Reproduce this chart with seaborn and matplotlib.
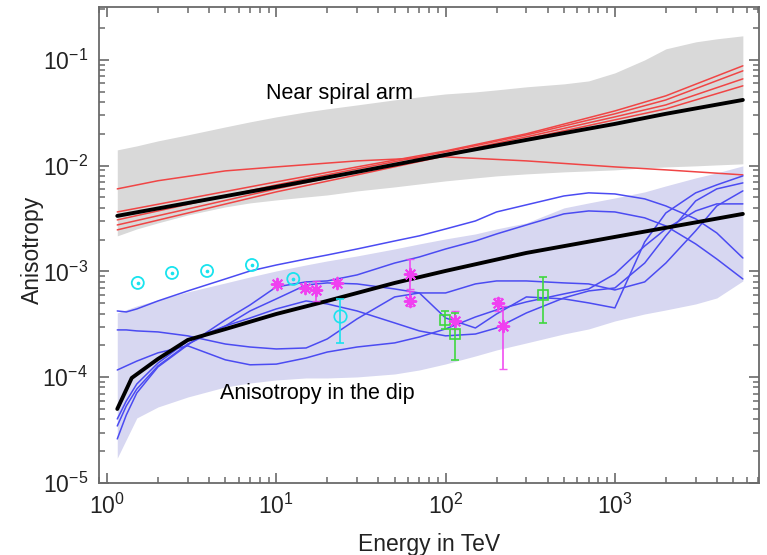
import numpy as np
import pandas as pd
import matplotlib
matplotlib.use("Agg")
import matplotlib.pyplot as plt
import seaborn as sns
from matplotlib.ticker import (LogLocator, FixedLocator, LogFormatterSciNotation,
                               NullFormatter)

sns.set_theme(style="white")
plt.rcParams["font.family"] = ["Liberation Sans", "DejaVu Sans"]
plt.rcParams["mathtext.fontset"] = "custom"
plt.rcParams["mathtext.rm"] = "Liberation Sans"

# ---- model envelopes (energy in TeV, anisotropy amplitude) ----
E_band = [1.15, 1.5, 2, 3, 5, 7, 10, 15, 20, 30, 50, 70, 100, 150, 200,
          300, 500, 700, 1000, 1500, 2000, 3000, 4000, 5700]
arm_band_hi = [0.01409, 0.01538, 0.01714, 0.01954, 0.02323, 0.02594, 0.02891,
               0.03221, 0.03443, 0.03750, 0.04188, 0.04467, 0.04764, 0.04977,
               0.05200, 0.05559, 0.05929, 0.06324, 0.07534, 0.1, 0.1271,
               0.1479, 0.1581, 0.1687]
arm_band_lo = [0.002168, 0.002523, 0.002877, 0.003420, 0.004074, 0.004446,
               0.004742, 0.005058, 0.005285, 0.005768, 0.006295, 0.006714,
               0.007178, 0.007656, 0.007998, 0.008356, 0.008730, 0.008913,
               0.009120, 0.009528, 0.009727, 0.009954, 0.01016, 0.01040]
dip_band_hi = [4.05e-4, 4.72e-4, 5.38e-4, 6.40e-4, 7.78e-4, 8.87e-4, 1.011e-3,
               1.152e-3, 1.257e-3, 1.401e-3, 1.632e-3, 1.820e-3, 2.029e-3,
               2.262e-3, 2.523e-3, 2.874e-3, 3.985e-3, 4.44e-3, 4.95e-3,
               5.647e-3, 6.433e-3, 7.658e-3, 8.54e-3, 9.95e-3]
dip_band_lo = [1.72e-5, 4.12e-5, 5.23e-5, 6.50e-5, 8.09e-5, 8.82e-5, 9.42e-5,
               9.84e-5, 9.84e-5, 1.006e-4, 1.073e-4, 1.171e-4, 1.335e-4,
               1.588e-4, 1.810e-4, 2.108e-4, 2.564e-4, 2.859e-4, 3.403e-4,
               3.963e-4, 4.323e-4, 4.928e-4, 5.615e-4, 8.13e-4]

# ---- near spiral arm: mean and individual realisations ----
E_arm = [1.15, 10, 30, 100, 300, 1000, 2000, 5700]
arm_mean = [0.00335, 0.00630, 0.00873, 0.01264, 0.0175, 0.0248, 0.0309, 0.0418]
arm_r1 = [0.00365, 0.00702, 0.00973, 0.01378, 0.0200, 0.0329, 0.0457, 0.0878]
arm_r2 = [0.00307, 0.00658, 0.00932, 0.01349, 0.0195, 0.0309, 0.0418, 0.0787]
arm_r3 = [0.00275, 0.00603, 0.00873, 0.01291, 0.0187, 0.0289, 0.0375, 0.0661]
arm_r4 = [0.00247, 0.00565, 0.00818, 0.01237, 0.0179, 0.0271, 0.0344, 0.0568]
E_arm_flat = [1.15, 2, 5, 10, 30, 100, 300, 1000, 2000, 5700]
arm_r5 = [0.00603, 0.00720, 0.00892, 0.00973, 0.01109, 0.01210, 0.01109,
          0.00973, 0.00912, 0.00818]

# ---- anisotropy in the dip: mean and individual realisations ----
E_dip_mean = [1.15, 1.4, 2, 3, 5, 10, 20, 50, 100, 300, 1000, 5700]
dip_mean = [5.01e-5, 9.84e-5, 1.488e-4, 2.25e-4, 2.85e-4, 3.96e-4, 5.26e-4,
            7.78e-4, 1.011e-3, 1.496e-3, 2.119e-3, 3.497e-3]

E_dip = [1.15, 1.3, 1.5, 2, 3, 5, 7, 10, 15, 20, 30, 50, 70, 100, 150, 200,
         300, 500, 700, 1000, 1500, 2000, 3000, 4000, 5700]
dip_a = [4.23e-4, 4.14e-4, 4.42e-4, 5.26e-4, 6.54e-4, 8.49e-4, 1.01e-3, 1.15e-3,
         1.31e-3, 1.43e-3, 1.63e-3, 1.94e-3, 2.17e-3, 2.52e-3, 3.00e-3, 3.65e-3,
         4.26e-3, 5.17e-3, 5.53e-3, 5.40e-3, 4.85e-3, 4.16e-3, 3.14e-3, 2.31e-3,
         1.34e-3]
dip_b = [2.61e-5, 4.39e-5, 7.10e-5, 1.25e-4, 2.02e-4, 3.48e-4, 4.82e-4, 7.14e-4,
         7.96e-4, 8.13e-4, 9.27e-4, 1.20e-3, 1.37e-3, 1.63e-3, 1.94e-3, 2.26e-3,
         2.75e-3, 3.50e-3, 3.73e-3, 3.65e-3, 3.21e-3, 2.69e-3, 1.82e-3, 1.31e-3,
         8.49e-4]
dip_c = [2.80e-4, 2.80e-4, 2.74e-4, 2.68e-4, 2.46e-4, 2.06e-4, 1.93e-4, 1.85e-4,
         1.89e-4, 2.30e-4, 3.56e-4, 5.74e-4, 6.26e-4, 6.26e-4, 7.62e-4, 8.13e-4,
         8.13e-4, 7.79e-4, 7.62e-4, 6.68e-4, 7.96e-4, 1.20e-3, 2.42e-3, 4.16e-3,
         5.77e-3]
dip_d = [1.17e-4, 1.28e-4, 1.42e-4, 1.70e-4, 1.98e-4, 1.46e-4, 1.31e-4, 1.33e-4,
         1.52e-4, 1.73e-4, 1.93e-4, 2.11e-4, 2.40e-4, 2.86e-4, 3.71e-4, 4.33e-4,
         5.15e-4, 6.13e-4, 6.83e-4, 9.47e-4, 1.74e-3, 2.52e-3, 3.73e-3, 4.35e-3,
         4.35e-3]
dip_e = [3.46e-5, 5.35e-5, 7.74e-5, 1.28e-4, 2.06e-4, 3.05e-4, 4.23e-4, 5.50e-4,
         7.45e-4, 7.79e-4, 7.62e-4, 6.83e-4, 6.26e-4, 3.63e-4, 2.92e-4, 3.96e-4,
         5.74e-4, 5.50e-4, 5.04e-4, 4.52e-4, 1.90e-3, 3.57e-3, 5.53e-3, 6.58e-3,
         8.00e-3]
dip_f = [4.03e-5, 5.96e-5, 8.63e-5, 1.36e-4, 2.20e-4, 3.05e-4, 3.63e-4, 4.42e-4,
         5.26e-4, 4.93e-4, 4.23e-4, 3.26e-4, 2.74e-4, 2.46e-4, 2.56e-4, 2.92e-4,
         4.05e-4, 5.62e-4, 6.54e-4, 6.98e-4, 1.20e-3, 2.17e-3, 4.64e-3, 6.03e-3,
         6.87e-3]

# ---- measurements ----
cyan_E = [1.52, 2.42, 3.90, 7.18, 12.6]
cyan_A = [7.79e-4, 9.68e-4, 1.01e-3, 1.15e-3, 8.49e-4]
cyan_err_E = [23.8]
cyan_err_A = [3.80e-4]
cyan_err_hi = [5.50e-4]
cyan_err_lo = [2.11e-4]

mag_E = [10.1, 14.8, 17.2, 22.8, 61.6, 61.6, 113.6, 204, 218]
mag_A = [7.62e-4, 6.98e-4, 6.68e-4, 7.79e-4, 9.47e-4, 5.26e-4, 3.40e-4,
         5.04e-4, 3.05e-4]
mag_hi = [None, None, 8.13e-4, None, 1.31e-3, 6.54e-4, 4.23e-4, 5.62e-4, 4.72e-4]
mag_lo = [None, None, 5.26e-4, None, 6.83e-4, 4.72e-4, 2.86e-4, 4.23e-4, 1.20e-4]

green_E = [99.2, 113.6, 376]
green_A = [3.48e-4, 2.56e-4, 6.00e-4]
green_hi = [4.23e-4, 4.05e-4, 8.87e-4]
green_lo = [2.86e-4, 1.46e-4, 3.26e-4]

# ---- colours ----
GRAY_BAND = "#d9d9d9"
DIP_BAND = "#d7d7f1"
RED = "#f04545"
BLUE = "#4b4bf2"
CYAN = "#19e3ee"
MAGENTA = "#f040f0"
GREEN = "#3fd83f"
AXIS = "#6a6a6a"
TEXT = "#222222"

fig = plt.figure(figsize=(7.67, 5.55), dpi=100)
ax = fig.add_axes([99 / 767, 1 - 483 / 555, 660 / 767, 476 / 555])
ax.set_xscale("log")
ax.set_yscale("log")
ax.set_axisbelow(False)

ax.fill_between(E_band, arm_band_lo, arm_band_hi, color=GRAY_BAND, lw=0, zorder=1)
ax.fill_between(E_band, dip_band_lo, dip_band_hi, color=DIP_BAND, lw=0, zorder=1)

for ys in (arm_r1, arm_r2, arm_r3, arm_r4):
    sns.lineplot(x=E_arm, y=ys, ax=ax, color=RED, lw=1.1, estimator=None,
                 sort=False, zorder=3)
sns.lineplot(x=E_arm_flat, y=arm_r5, ax=ax, color=RED, lw=1.1, estimator=None,
             sort=False, zorder=3)

for ys in (dip_a, dip_b, dip_c, dip_d, dip_e, dip_f):
    sns.lineplot(x=E_dip, y=ys, ax=ax, color=BLUE, lw=1.1, estimator=None,
                 sort=False, zorder=3)

sns.lineplot(x=E_arm, y=arm_mean, ax=ax, color="black", lw=2.8, estimator=None,
             sort=False, zorder=4)
sns.lineplot(x=E_dip_mean, y=dip_mean, ax=ax, color="black", lw=2.8,
             estimator=None, sort=False, zorder=4)

# cyan circles with central dot
sns.scatterplot(x=cyan_E, y=cyan_A, ax=ax, marker="o", s=75, facecolor="none",
                edgecolor=CYAN, linewidth=1.3, zorder=6)
sns.scatterplot(x=cyan_E, y=cyan_A, ax=ax, marker="o", s=7, color=CYAN,
                edgecolor=CYAN, linewidth=0, zorder=6)
ax.errorbar(cyan_err_E, cyan_err_A,
            yerr=[np.subtract(cyan_err_A, cyan_err_lo),
                  np.subtract(cyan_err_hi, cyan_err_A)],
            fmt="o", mfc="none", mec=CYAN, ms=9, mew=1.2, ecolor=CYAN,
            elinewidth=1.2, capsize=3, zorder=6)

# magenta asterisks
for e, a, hi, lo in zip(mag_E, mag_A, mag_hi, mag_lo):
    if hi is not None:
        ax.errorbar([e], [a], yerr=[[a - lo], [hi - a]], fmt="none",
                    ecolor=MAGENTA, elinewidth=1.3, capsize=3, alpha=0.85,
                    zorder=6)
sns.scatterplot(x=mag_E, y=mag_A, ax=ax, marker=(8, 2, 0), s=70,
                color=MAGENTA, edgecolor=MAGENTA, linewidth=1.4, zorder=7)

# green squares
ax.errorbar(green_E, green_A,
            yerr=[np.subtract(green_A, green_lo), np.subtract(green_hi, green_A)],
            fmt="s", mfc="none", mec=GREEN, ms=7, mew=1.2, ecolor=GREEN,
            elinewidth=1.2, capsize=3, zorder=6)

ax.text(8.7, 0.0485, "Near spiral arm", fontsize=15.5, ha="left", va="center",
        color="black", zorder=8)
ax.text(4.65, 6.95e-5, "Anisotropy in the dip", fontsize=15.5, ha="left",
        va="center", color="black", zorder=8)

ax.set_xlim(0.897, 7100)
ax.set_ylim(1e-5, 0.316)

minor_pos = [m * 10.0 ** k for k in range(-6, 5) for m in range(2, 10)]
ax.xaxis.set_major_locator(LogLocator(base=10, numticks=10))
ax.yaxis.set_major_locator(LogLocator(base=10, numticks=10))
ax.xaxis.set_minor_locator(FixedLocator(minor_pos))
ax.yaxis.set_minor_locator(FixedLocator(minor_pos))
ax.xaxis.set_major_formatter(LogFormatterSciNotation())
ax.yaxis.set_major_formatter(LogFormatterSciNotation())
ax.xaxis.set_minor_formatter(NullFormatter())
ax.yaxis.set_minor_formatter(NullFormatter())

for sp in ax.spines.values():
    sp.set_color(AXIS)
    sp.set_linewidth(1.3)

ax.set_xlabel("Energy in TeV", fontsize=16.5, color=TEXT, labelpad=10)
ax.set_ylabel("Anisotropy", fontsize=16.5, color=TEXT)
ax.yaxis.set_label_coords(-0.083, 0.49)

# inward ticks on all four sides, applied last so nothing overrides them
ax.tick_params(which="both", direction="in", top=True, right=True,
               bottom=True, left=True, color=AXIS, labelsize=16.5,
               labelcolor=TEXT)
ax.tick_params(which="major", length=7.5, width=1.2, pad=8)
ax.tick_params(which="minor", length=4.5, width=1.1)
fig.canvas.draw()
for axis in (ax.xaxis, ax.yaxis):
    for tk in axis.get_minor_ticks():
        tk.tick1line.set_visible(True)
        tk.tick2line.set_visible(True)
        tk.tick1line.set_zorder(5)
        tk.tick2line.set_zorder(5)

fig.savefig("out.png", dpi=100)
